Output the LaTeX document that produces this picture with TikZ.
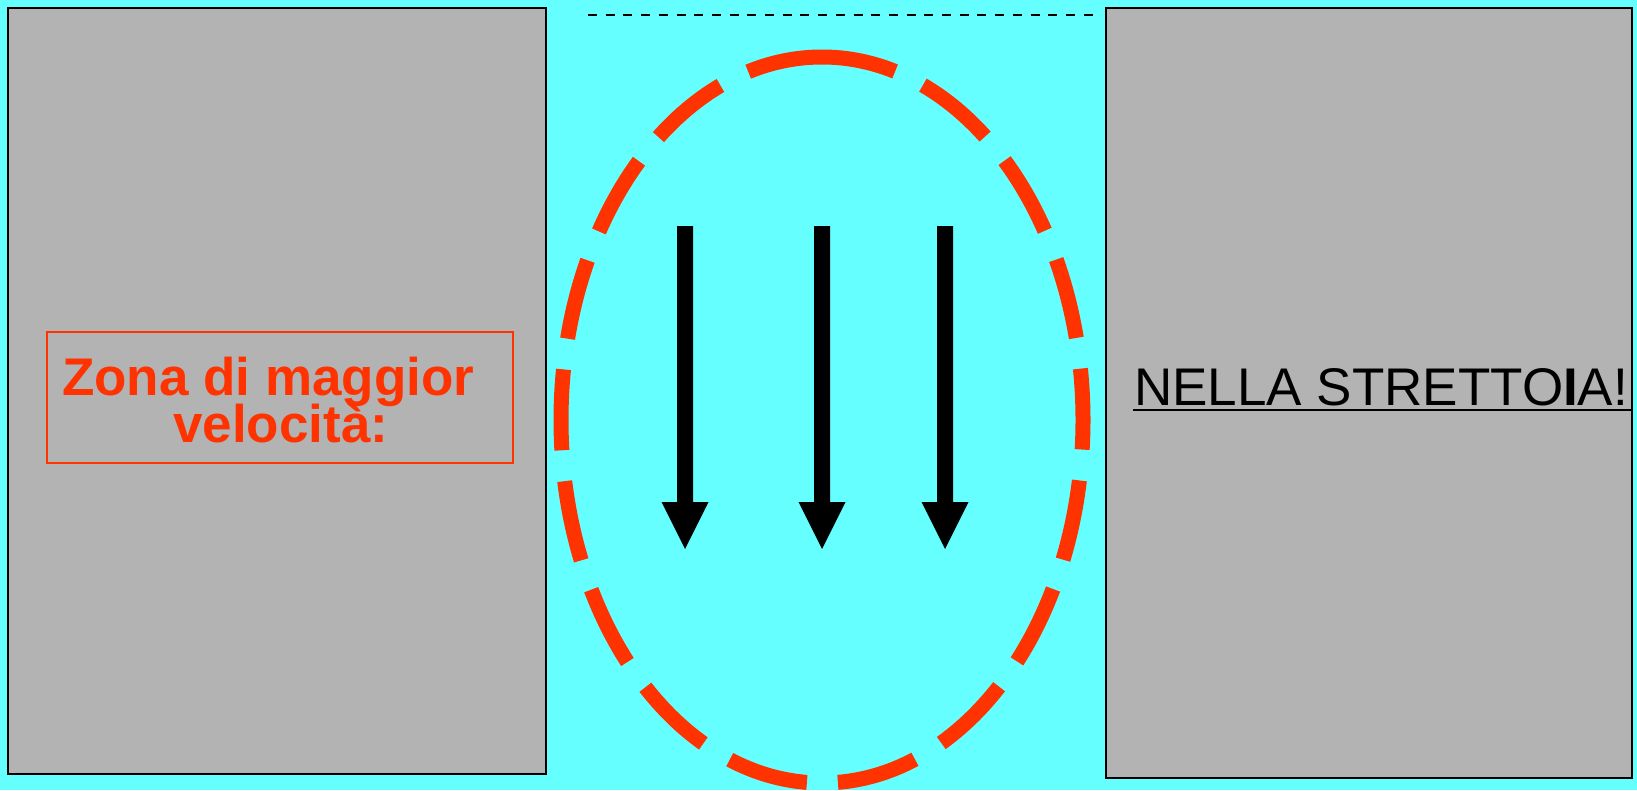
\documentclass[tikz,border=0pt]{standalone}
\usepackage{fontspec}
\setmainfont{Liberation Sans}
\definecolor{bgcyan}{HTML}{66FFFF}
\definecolor{boxgray}{HTML}{B3B3B3}
\definecolor{hotred}{HTML}{FF3300}
\begin{document}
\begin{tikzpicture}[x=1pt,y=-1pt,
  panel/.style={draw=black,line width=2pt,fill=boxgray},
  bigtext/.style={font=\fontsize{53}{53}\selectfont,inner sep=0pt},
  flowarrow/.style={fill=black},
  zoneline/.style={draw=hotred,line width=15pt,dash pattern=on 81pt off 31pt,dash phase=6pt}]
\useasboundingbox (0,0) rectangle (1637,790);
\fill[bgcyan] (0,0) rectangle (1637,790);
% panels
\draw[panel] (8,8) rectangle (546,774);
\draw[panel] (1106,8) rectangle (1632,778);
% top dashed line
\coordinate (dl) at (588,14.5);
\coordinate (dr) at (1093,14.5);
\draw[line width=2pt,dash pattern=on 9pt off 8.7pt] (dl) -- (dr);
% left label
\draw[hotred,line width=1.8pt] (47,332) rectangle (513,463);
\node[bigtext,text=hotred,font=\fontsize{53}{53}\selectfont\bfseries,anchor=base west] (l1) at (62,395) {Zona di maggior};
\node[bigtext,text=hotred,font=\fontsize{53}{53}\selectfont\bfseries,anchor=base west] (l2) at (173,442) {velocità:};
% right label
\node[bigtext,anchor=base west] (t) at (1134,405) {NELLA STRETTO{\bfseries I}A!};
\draw[line width=2.6pt] (1133,410) -- (1631,410);
% dashed ellipse
\draw[zoneline] (822,57) arc[start angle=-90,end angle=270,x radius=261,y radius=363];
% arrows
\foreach \cx in {685,822,945}{
  \fill[flowarrow] (\cx-8,226) -- (\cx+8,226) -- (\cx+8,502) -- (\cx+23.5,502) -- (\cx,549) -- (\cx-23.5,502) -- (\cx-8,502) -- cycle;
}
\end{tikzpicture}
\end{document}
